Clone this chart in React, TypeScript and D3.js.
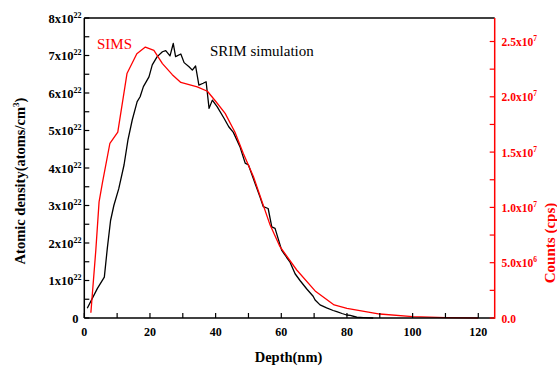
import React from "react";
import * as d3 from "d3";

const simsDepth = [2.0, 3.5, 4.5, 5.5, 7.8, 10.2, 13.0, 16.0, 18.6, 21.2, 23.8, 26.8, 29.4, 34.4, 37.5, 40.0, 42.9, 45.9, 48.4, 51.5, 56.6, 59.6, 64.7, 70.3, 76.1, 80.0, 90.0, 100.0, 110.0, 120.0];
const simsCounts = [0.48e6, 6.1e6, 10.5e6, 12.2e6, 15.8e6, 16.8e6, 22.1e6, 23.9e6, 24.5e6, 24.2e6, 23.0e6, 22.0e6, 21.3e6, 20.9e6, 20.5e6, 19.6e6, 18.5e6, 16.8e6, 14.9e6, 12.8e6, 8.4e6, 6.45e6, 4.34e6, 2.45e6, 1.18e6, 0.88e6, 0.36e6, 0.12e6, 0.03e6, 0.0];

const srimDepth = [0.9, 4.0, 6.1, 7.0, 8.0, 9.0, 10.5, 12.1, 13.3, 14.6, 16.1, 17.0, 18.0, 19.7, 20.7, 22.2, 23.8, 24.8, 26.1, 27.1, 27.8, 29.4, 30.4, 31.9, 32.9, 33.9, 34.9, 36.2, 37.1, 38.0, 39.0, 40.5, 42.6, 44.0, 45.4, 47.4, 49.0, 50.0, 52.0, 53.5, 54.5, 56.0, 57.1, 58.1, 60.1, 61.6, 62.6, 64.2, 65.7, 67.7, 69.7, 70.3, 71.8, 73.8, 75.8, 76.9, 78.5, 79.9, 81.0, 83.0, 85.0, 88.0];
const srimDensity = [0.26, 0.79, 1.09, 1.85, 2.6, 3.0, 3.45, 4.08, 4.75, 5.28, 5.77, 5.9, 6.17, 6.43, 6.75, 6.97, 7.1, 7.13, 6.99, 7.32, 6.97, 7.04, 6.81, 6.7, 6.61, 6.72, 6.21, 6.26, 6.3, 5.59, 5.81, 5.63, 5.32, 5.1, 4.95, 4.57, 4.13, 4.08, 3.59, 3.23, 2.97, 2.92, 2.43, 2.39, 1.81, 1.62, 1.5, 1.18, 1.0, 0.78, 0.58, 0.48, 0.35, 0.27, 0.2, 0.17, 0.12, 0.08, 0.07, 0.02, 0.01, 0.0];

const xTicks = [0, 20, 40, 60, 80, 100, 120];
const xMinorTicks = [10, 30, 50, 70, 90, 110];
const leftTicks = [0, 1, 2, 3, 4, 5, 6, 7, 8];
const leftMinorTicks = [0.5, 1.5, 2.5, 3.5, 4.5, 5.5, 6.5, 7.5];
const rightTicks = [0, 5e6, 1e7, 1.5e7, 2e7, 2.5e7];
const rightTickBase = ["0.0", "5.0x10", "1.0x10", "1.5x10", "2.0x10", "2.5x10"];
const rightTickExp = ["", "6", "7", "7", "7", "7"];
const rightMinorTicks = [2.5e6, 7.5e6, 1.25e7, 1.75e7, 2.25e7];

const FONT = "'Liberation Serif', 'Times New Roman', serif";
const RED = "#ff0000";

export default function App() {
  const L = 84.3, R = 494.7, T = 18, B = 318;
  const x = d3.scaleLinear().domain([0, 125]).range([L, R]);
  const yL = d3.scaleLinear().domain([0, 8]).range([B, T]);
  const yR = d3.scaleLinear().domain([0, 2.7125e7]).range([B, T]);
  const tl = 5;

  const srimLine = d3.line<number>().x((d, i) => x(srimDepth[i])).y((d) => yL(d));
  const simsLine = d3.line<number>().x((d, i) => x(simsDepth[i])).y((d) => yR(d));

  return (
    <svg width={557} height={366} style={{ position: "absolute", left: 0, top: 0, background: "#fff" }} fontFamily={FONT}>
      <rect width={557} height={366} fill="#fff" />
      {/* data */}
      <path d={srimLine(srimDensity) || ""} fill="none" stroke="#000" strokeWidth={1.3} strokeLinejoin="round" />
      <path d={simsLine(simsCounts) || ""} fill="none" stroke={RED} strokeWidth={1.3} strokeLinejoin="round" />

      {/* frame */}
      <line x1={L} x2={R} y1={T} y2={T} stroke="#000" strokeWidth={1.5} />
      <line x1={L} x2={L} y1={T} y2={B} stroke="#000" strokeWidth={1.5} />
      <line x1={L} x2={R} y1={B} y2={B} stroke="#000" strokeWidth={1.5} />
      <line x1={R} x2={R} y1={T} y2={B + 0.75} stroke={RED} strokeWidth={1.5} />

      {/* x ticks */}
      {[...xTicks, ...xMinorTicks].map((t) => (
        <line key={"xt" + t} x1={x(t)} x2={x(t)} y1={B} y2={B - tl} stroke="#000" strokeWidth={1.2} />
      ))}
      {xTicks.map((t) => (
        <text key={"xl" + t} x={x(t)} y={336} textAnchor="middle" fontSize={12} fontWeight="bold">{t}</text>
      ))}

      {/* left ticks */}
      {[...leftTicks, ...leftMinorTicks].map((t) => (
        <line key={"lt" + t} x1={L} x2={L + tl} y1={yL(t)} y2={yL(t)} stroke="#000" strokeWidth={1.2} />
      ))}
      {leftTicks.map((t) => (
        <text key={"ll" + t} x={t === 0 ? 78.5 : 81.5} y={yL(t) + 4.5} textAnchor="end" fontSize={12.5} fontWeight="bold">
          {t === 0 ? "0" : (
            <>
              {t + "x10"}
              <tspan fontSize={8} dy={-5}>22</tspan>
            </>
          )}
        </text>
      ))}

      {/* right ticks */}
      {[...rightTicks, ...rightMinorTicks].map((t) => (
        <line key={"rt" + t} x1={R} x2={R - tl} y1={yR(t)} y2={yR(t)} stroke={RED} strokeWidth={1.2} />
      ))}
      {rightTicks.map((t, i) => (
        <text key={"rl" + t} x={501.5} y={yR(t) + 4.5} textAnchor="start" fontSize={11.5} fontWeight="bold" fill={RED}>
          {rightTickBase[i]}
          {rightTickExp[i] && <tspan fontSize={7.5} dy={-5}>{rightTickExp[i]}</tspan>}
        </text>
      ))}

      {/* axis titles */}
      <text x={(L + R) / 2 - 1} y={362} textAnchor="middle" fontSize={14.5} fontWeight="bold">Depth(nm)</text>
      <text transform={`translate(25,181) rotate(-90)`} textAnchor="middle" fontSize={14.5} fontWeight="bold">
        Atomic density(atoms/cm<tspan fontSize={9} dy={-6}>3</tspan><tspan dy={6}>)</tspan>
      </text>
      <text transform={`translate(555,243) rotate(-90)`} textAnchor="middle" fontSize={15} fontWeight="bold" fill={RED}>Counts (cps)</text>

      {/* legends */}
      <text x={97} y={48.5} fontSize={15} fill={RED}>SIMS</text>
      <text x={210} y={55.5} fontSize={15} fill="#000">SRIM simulation</text>
    </svg>
  );
}
